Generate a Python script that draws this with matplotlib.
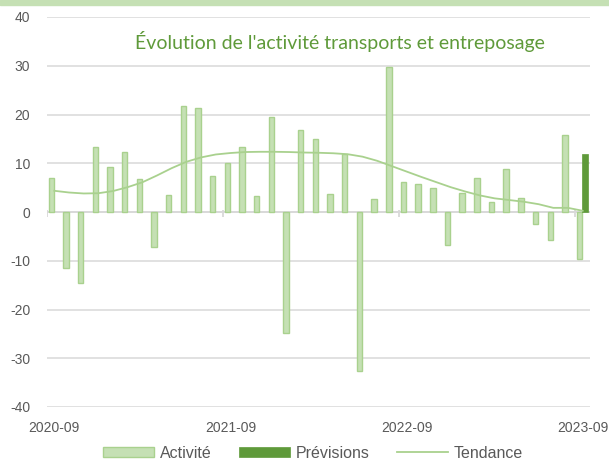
import numpy as np
import pandas as pd
import matplotlib
matplotlib.use("Agg")
import matplotlib.pyplot as plt
from matplotlib.patches import Rectangle

# monthly categories, 2020-09 .. 2023-09
months = list(pd.period_range("2020-09", "2023-09", freq="M").strftime("%Y-%m"))
activite = [7.0, -11.5, -14.6, 13.3, 9.2, 12.4, 6.8, -7.1, 3.5, 21.8,
            21.4, 7.4, 10.0, 13.3, 3.3, 19.5, -24.8, 16.8, 14.9, 3.6,
            12.0, -32.6, 2.6, 29.7, 6.2, 5.8, 5.0, -6.7, 3.8, 7.0,
            2.1, 8.9, 2.8, -2.5, -5.7, 15.7, -9.6]
previsions = [np.nan] * 36 + [11.9]
tendance = [4.35, 4.0, 3.8, 3.85, 4.3, 5.1, 6.1, 7.5, 9.0, 10.3,
            11.2, 11.8, 12.1, 12.3, 12.35, 12.35, 12.3, 12.2, 12.15, 12.05,
            11.85, 11.35, 10.5, 9.4, 8.3, 7.2, 6.15, 5.1, 4.2, 3.4,
            2.8, 2.45, 2.1, 1.6, 0.85, 0.85, 0.25]
year_labels = ["2020-09", "2021-09", "2022-09", "2023-09"]

light = "#c5e0b4"
edge = "#a9d18e"
dark = "#5f9a3a"
grey_txt = "#595959"
grid = "#d9d9d9"

plt.rcParams["font.family"] = ["Liberation Sans", "DejaVu Sans"]
plt.rcParams["axes.unicode_minus"] = False

fig = plt.figure(figsize=(6.09, 4.62), dpi=100)
ax = fig.add_axes([47 / 609, 1 - 407 / 462, 543 / 609, 390 / 462])

x = np.arange(len(months))
b1 = ax.bar(x + 0.29, activite, width=0.37, color=light, edgecolor=edge,
            linewidth=1.0, label="Activité", zorder=3)
b2 = ax.bar(x + 0.63, previsions, width=0.4, color=dark, edgecolor=dark,
            linewidth=0.5, label="Prévisions", zorder=3)
ln, = ax.plot(x + 0.5, tendance, color=edge, linewidth=1.3, label="Tendance", zorder=4)

ax.set_xlim(0, len(months))
ax.set_ylim(-40, 40)
ax.set_yticks(range(-40, 41, 10))
ax.yaxis.grid(True, color=grid, linewidth=1.1, zorder=0)
ax.set_axisbelow(True)

# category axis on the zero line with ticks at year boundaries
year_idx = [months.index(m) for m in year_labels]
ax.axhline(0, color=grid, linewidth=1.3, zorder=2)
ax.vlines(year_idx, -1.1, 0.4, color=grid, linewidth=1.3, zorder=2)

ax.set_xticks([i + 0.5 for i in year_idx])
ax.set_xticklabels(year_labels)
ax.tick_params(axis="x", length=0, pad=10, labelsize=10, colors=grey_txt)
ax.tick_params(axis="y", length=0, pad=12, labelsize=10, colors=grey_txt)
for s in ax.spines.values():
    s.set_visible(False)

fig.text(340 / 609, 1 - 41 / 462, "Évolution de l'activité transports et entreposage",
         ha="center", va="center", fontsize=14, color=dark, family="Lato")

# thin green band along the top
fig.patches.append(Rectangle((0, 1 - 5 / 462), 1, 5 / 462, transform=fig.transFigure,
                             color=light, zorder=0))

fig.legend([b1, b2, ln], ["Activité", "Prévisions", "Tendance"],
           loc="center", bbox_to_anchor=(313 / 609, 1 - 453 / 462), ncol=3,
           frameon=False, fontsize=11.5, handlelength=3.2, handleheight=0.55,
           handletextpad=0.35, columnspacing=1.7, labelcolor=grey_txt)

fig.savefig("out.png", dpi=100)
